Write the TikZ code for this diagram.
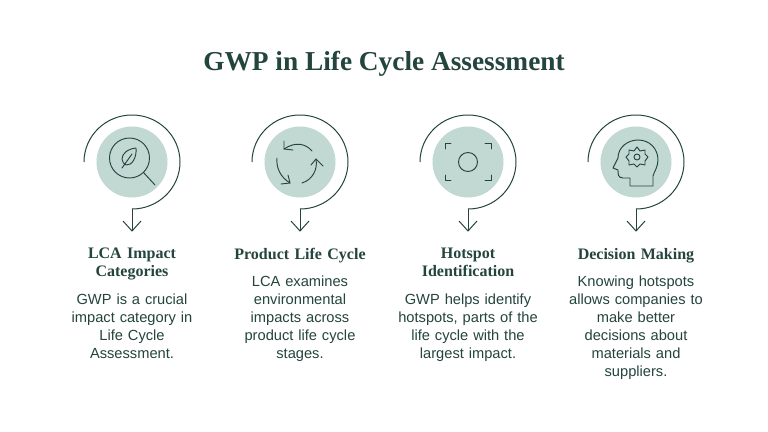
\documentclass[tikz,border=0pt]{standalone}
\usepackage{fontspec}
\setmainfont{Liberation Sans}
\newfontfamily\headfont{Liberation Serif}
\definecolor{inkgreen}{HTML}{24443E}
\definecolor{discgreen}{HTML}{C2D8D2}
\tikzset{
  spiralline/.style={draw=inkgreen,line width=0.75pt},
  iconline/.style={draw=inkgreen,line width=0.7pt,line cap=round,line join=round},
  headtext/.style={text=inkgreen,align=center,font=\headfont\bfseries\fontsize{12}{13.6}\selectfont,text width=105pt,inner sep=0pt,anchor=north},
  bodytext/.style={text=inkgreen,align=center,font=\fontsize{11}{13.5}\selectfont,text width=112pt,inner sep=0pt,anchor=north},
}
\begin{document}
\begin{tikzpicture}[x=0.75pt,y=-0.75pt]
  \useasboundingbox (0,0) rectangle (768,432);
  \fill[white] (0,0) rectangle (768,432);
  \node[text=inkgreen,font=\headfont\bfseries\fontsize{20.5}{24}\selectfont] (title) at (384,64) {GWP in Life Cycle Assessment};
  % spiral, disc and arrow of every column
  \foreach \cx/\nm in {132/lca,300/cycle,468/spot,636/mind} {
    \fill[discgreen] (\cx,162) circle (35.5);
    \draw[spiralline] (\cx-48,162) arc(180 : 450 : 48 and 47) coordinate (\nm end);
    \draw[spiralline] (\nm end) -- ++(0,22) coordinate (\nm tip);
    \draw[spiralline] (\cx-9,221) -- (\nm tip) -- (\cx+9,221);
  }
  % magnifier and leaf
  \draw[iconline] (129.5,158) circle (20);
  \draw[iconline] (143.5,172.5) -- (155,185);
  \draw[iconline] (136,148) .. controls (127,149) and (122,154) .. (122,159) .. controls (122,162) and (124,164) .. (126,165) .. controls (132,166) and (137,157) .. (136,148) -- cycle;
  \draw[iconline] (122,168) -- (132,154);
  % three arrows
  \draw[iconline] (312,151) .. controls (306,144) and (296,141) .. (284,149);
  \draw[iconline] (284,141) -- (284,149) -- (293,150);
  \draw[iconline] (277,158) .. controls (276,167) and (280,177) .. (290,183);
  \draw[iconline] (281,184) -- (290,183) -- (288,175);
  \draw[iconline] (302,183) .. controls (312,180) and (318,170) .. (316,159);
  \draw[iconline] (311,165) -- (316,159) -- (323,166);
  % focus frame
  \draw[iconline] (468,162) circle (9.5);
  \draw[iconline] (445,149) -- (445,143.5) -- (451,143.5);
  \draw[iconline] (485,143.5) -- (491,143.5) -- (491,149);
  \draw[iconline] (445,175) -- (445,180.5) -- (451,180.5);
  \draw[iconline] (485,180.5) -- (491,180.5) -- (491,175);
  % head and gear
  \draw[iconline] (630,186) -- (630,178) -- (623,178) .. controls (618,178) and (618,174) .. (618,170) -- (613,168) -- (618,158) .. controls (618,147) and (628,140) .. (638,140) .. controls (650,140) and (658,149) .. (658,160) .. controls (658,167) and (654,172) .. (653,176) -- (653,186) -- cycle;
  \draw[iconline] (637,157) circle (3);
  \draw[iconline] (637,147) -- (640,151) -- (645,150) -- (645,154) -- (648,157) -- (645,161) -- (645,165) -- (640,164) -- (637,167) -- (634,164) -- (629,165) -- (629,161) -- (626,157) -- (629,154) -- (629,150) -- (634,151) -- cycle;
  % texts
  \node[headtext] (lcahead) at (132,248) {LCA Impact\\Categories};
  \node[headtext] (cyclehead) at (300,248) {Product Life Cycle};
  \node[headtext] (spothead) at (468,248) {Hotspot\\Identification};
  \node[headtext] (mindhead) at (636,248) {Decision Making};
  \node[bodytext] (lcabody) at (132,294) {GWP is a crucial\\impact category in\\Life Cycle\\Assessment.};
  \node[bodytext] (cyclebody) at (300,276) {LCA examines\\environmental\\impacts across\\product life cycle\\stages.};
  \node[bodytext] (spotbody) at (468,294) {GWP helps identify\\hotspots, parts of the\\life cycle with the\\largest impact.};
  \node[bodytext] (mindbody) at (636,276) {Knowing hotspots\\allows companies to\\make better\\decisions about\\materials and\\suppliers.};
\end{tikzpicture}
\end{document}
